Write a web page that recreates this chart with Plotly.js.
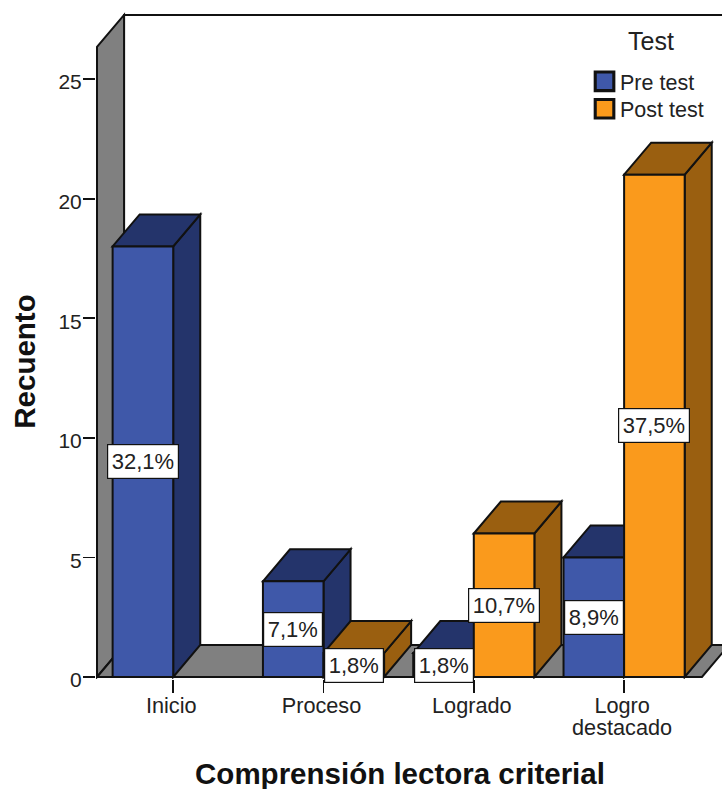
<!DOCTYPE html>
<html>
<head>
<meta charset="utf-8">
<script src="https://cdn.plot.ly/plotly-3.0.1.min.js"></script>
<style>html,body{margin:0;padding:0;background:#fff}#chart{width:722px;height:789px}</style>
</head>
<body>
<div id="chart"></div>
<script>
var categories = ['Inicio', 'Proceso', 'Logrado', 'Logro<br>destacado'];
var positions = [0, 1, 2, 3];
var preValues = [18, 4, 1, 5];
var postValues = [null, 1, 6, 21];
var preLabels = ['32,1%', '7,1%', '1,8%', '8,9%'];
var postLabels = [null, '1,8%', '10,7%', '37,5%'];
var yTicks = [0, 5, 10, 15, 20, 25];

var FONT = '"Liberation Sans", Arial, sans-serif';
var barW = 0.403, dx = 0.18, dy = 1.338;
var xMin = -0.5136, xMax = 3.6513, yMin = -0.0836, yMax = 27.885;
var wallTop = 26.34, floorEnd = 3.518;
var blue = '#3f58a9', blueDark = '#24346b', orange = '#fa9a1c', orangeDark = '#9a5f10', gray = '#808080';
var edge = 2;

function poly(pts) {
  return 'M' + pts.map(function (p) { return p[0] + ',' + p[1]; }).join('L') + 'Z';
}
function face(pts, color) {
  return {type: 'path', layer: 'below', xref: 'x', yref: 'y', path: poly(pts),
          fillcolor: color, line: {color: '#111', width: edge}};
}
var shapes = [];
var wallX = xMin + 0.0067;
shapes.push(face([[wallX + dx, wallTop + dy], [xMax + 1, wallTop + dy], [xMax + 1, dy], [wallX + dx, dy]], '#fff'));
shapes.push(face([[wallX, 0], [wallX + dx, dy], [wallX + dx, wallTop + dy], [wallX, wallTop]], gray));
shapes.push(face([[wallX, 0], [wallX + dx, dy], [floorEnd + dx, dy], [floorEnd, 0]], gray));

function addBox(x0, x1, v, dark) {
  shapes.push(face([[x1, 0], [x1 + dx, dy], [x1 + dx, v + dy], [x1, v]], dark));
  shapes.push(face([[x0, v], [x0 + dx, v + dy], [x1 + dx, v + dy], [x1, v]], dark));
}
var annotations = [];
function label(txt, x, y) {
  annotations.push({x: x, y: y, xref: 'x', yref: 'y', text: txt, showarrow: false,
    bgcolor: '#fff', bordercolor: '#111', borderwidth: 1.2, borderpad: 3.5, height: 26,
    font: {family: FONT, size: 22, color: '#222'}});
}
positions.forEach(function (p, i) {
  if (preValues[i] !== null) {
    addBox(p - barW, p, preValues[i], blueDark);
    label(preLabels[i], p - barW / 2, preValues[i] / 2);
  }
  if (postValues[i] !== null) {
    addBox(p, p + barW, postValues[i], orangeDark);
    label(postLabels[i], p + barW / 2, postValues[i] / 2);
  }
});
// legend heading
annotations.push({xref: 'paper', yref: 'paper', x: 0.8858, y: 0.9537, xanchor: 'center', yanchor: 'middle',
  text: 'Test', showarrow: false, font: {family: FONT, size: 25, color: '#222'}});

var data = [
  {type: 'bar', name: 'Pre test', x: positions, y: preValues,
   marker: {color: blue, line: {color: '#111', width: edge}}, hoverinfo: 'skip'},
  {type: 'bar', name: 'Post test', x: positions, y: postValues,
   marker: {color: orange, line: {color: '#111', width: edge}}, hoverinfo: 'skip'}
];

var layout = {
  width: 722, height: 789, autosize: false,
  margin: {l: 96, r: 0, t: 10, b: 110, pad: 0},
  paper_bgcolor: '#fff', plot_bgcolor: 'rgba(0,0,0,0)',
  barmode: 'group', bargap: 0.194, bargroupgap: 0,
  font: {family: FONT, color: '#222'},
  shapes: shapes, annotations: annotations,
  xaxis: {
    range: [xMin, xMax], tickmode: 'array', tickvals: positions, ticktext: categories,
    ticks: 'outside', ticklen: 13, tickwidth: 1.8, tickcolor: '#111', showgrid: false, zeroline: false,
    showline: false, tickangle: 0, ticklabelstandoff: -6, ticklabelshift: -2,
    tickfont: {family: FONT, size: 21.7, color: '#222'},
    title: {text: 'Comprensión lectora criterial', standoff: 0,
            font: {family: FONT, size: 29.5, color: '#111', weight: 'bold'}}
  },
  yaxis: {
    range: [yMin, yMax], tickmode: 'array', tickvals: yTicks,
    ticks: 'outside', ticklen: 12, tickwidth: 1.8, tickcolor: '#111', showgrid: false, zeroline: false,
    showline: false, ticklabelstandoff: -3, ticklabelshift: 3,
    tickfont: {family: FONT, size: 21, color: '#222'},
    title: {text: 'Recuento', standoff: 8,
            font: {family: FONT, size: 29.5, color: '#111', weight: 'bold'}}
  },
  legend: {
    x: 0.7732, y: 0.924, xanchor: 'left', yanchor: 'top', bgcolor: 'rgba(0,0,0,0)',
    font: {family: FONT, size: 21.5, color: '#222'}, itemclick: false, itemdoubleclick: false, traceorder: 'normal'
  },
  showlegend: true
};

Plotly.newPlot('chart', data, layout, {displayModeBar: false, staticPlot: true}).then(function () {
  // tighter line spacing of the two-line tick label
  document.querySelectorAll('.xtick tspan.line').forEach(function (t) {
    var d = t.getAttribute('dy');
    if (d && parseFloat(d) > 0) t.setAttribute('dy', '1.02em');
  });
  // larger legend swatches
  document.querySelectorAll('.legendpoints path').forEach(function (p) {
    var tr = p.getAttribute('transform') || '';
    p.setAttribute('transform', tr + ' translate(4.5,0) scale(1.55)');
  });
  // closer legend rows
  var sb = document.querySelector('.legend .scrollbox');
  if (sb) sb.removeAttribute('clip-path');
  var rows = document.querySelectorAll('.legend .traces');
  if (rows[1]) {
    var m = /translate\(([^,]+),\s*([^)]+)\)/.exec(rows[1].getAttribute('transform'));
    if (m) rows[1].setAttribute('transform', 'translate(' + m[1] + ',' + (parseFloat(m[2]) - 3.5) + ')');
  }
  // axis titles positions
  var yt = document.querySelector('.ytitle');
  if (yt) yt.setAttribute('transform', 'translate(-6,17) ' + (yt.getAttribute('transform') || ''));
  var xt = document.querySelector('.xtitle');
  if (xt) xt.setAttribute('transform', 'translate(-9,11) ' + (xt.getAttribute('transform') || ''));
});
</script>
</body>
</html>
